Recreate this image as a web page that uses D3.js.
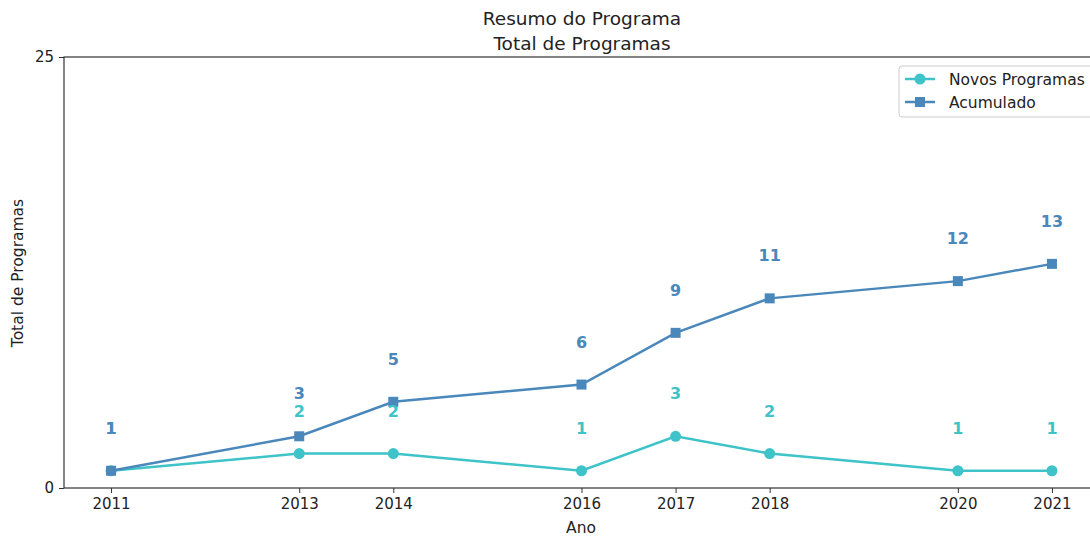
<!DOCTYPE html>
<html><head><meta charset="utf-8">
<script src="https://cdn.jsdelivr.net/npm/d3@7"></script>
<style>body{margin:0;background:#fff}svg{display:block}text{font-family:"DejaVu Sans",sans-serif}</style>
</head><body>
<svg id="c" width="1090" height="536"></svg>
<script>
const years = [2011, 2013, 2014, 2016, 2017, 2018, 2020, 2021];
const novos = [1, 2, 2, 1, 3, 2, 1, 1];
const acumulado = [1, 3, 5, 6, 9, 11, 12, 13];
const yTicks = [0, 25];
const seriesNames = ["Novos Programas", "Acumulado"];
const colNovos = "#3ec3c8", colAcum = "#4a87ba";

const svg = d3.select("#c");
const L = 64, R = 1099, T = 57, B = 488;
const x = d3.scaleLinear().domain([2010.5, 2021.5]).range([L, R]);
const y = d3.scaleLinear().domain([0, 25]).range([B, T]);

svg.append("rect").attr("x", L).attr("y", T).attr("width", R - L).attr("height", B - T)
  .attr("fill", "none").attr("stroke", "#333").attr("stroke-width", 1.2);

const xa = svg.append("g").attr("transform", `translate(0,${B})`)
  .call(d3.axisBottom(x).tickValues(years).tickFormat(d3.format("d")).tickSize(5).tickPadding(5));
const ya = svg.append("g").attr("transform", `translate(${L},0)`)
  .call(d3.axisLeft(y).tickValues(yTicks).tickSize(5).tickPadding(5));
[xa, ya].forEach(a => {
  a.select(".domain").remove();
  a.selectAll("text").attr("font-size", 15).attr("fill", "#222").attr("font-family", "DejaVu Sans");
  a.selectAll("line").attr("stroke", "#333");
});

svg.append("text").attr("x", 582).attr("y", 25).attr("text-anchor", "middle").attr("font-size", 18.5).attr("fill", "#222").text("Resumo do Programa");
svg.append("text").attr("x", 582).attr("y", 50).attr("text-anchor", "middle").attr("font-size", 18.5).attr("fill", "#222").text("Total de Programas");
svg.append("text").attr("x", 581).attr("y", 533).attr("text-anchor", "middle").attr("font-size", 15.5).attr("fill", "#222").text("Ano");
svg.append("text").attr("transform", "translate(23,273) rotate(-90)").attr("text-anchor", "middle").attr("font-size", 15.5).attr("fill", "#222").text("Total de Programas");

const line = d3.line().x(d => x(d[0])).y(d => y(d[1]));
const dN = years.map((yr, i) => [yr, novos[i]]);
const dA = years.map((yr, i) => [yr, acumulado[i]]);

svg.append("path").datum(dN).attr("d", line).attr("fill", "none").attr("stroke", colNovos).attr("stroke-width", 2.5);
svg.selectAll(".mn").data(dN).join("circle").attr("cx", d => x(d[0])).attr("cy", d => y(d[1])).attr("r", 5.5).attr("fill", colNovos);

svg.append("path").datum(dA).attr("d", line).attr("fill", "none").attr("stroke", colAcum).attr("stroke-width", 2.5);
svg.selectAll(".ma").data(dA).join("rect").attr("x", d => x(d[0]) - 5).attr("y", d => y(d[1]) - 5).attr("width", 10).attr("height", 10).attr("fill", colAcum);

svg.selectAll(".ln").data(dN).join("text").attr("x", d => x(d[0])).attr("y", d => y(d[1]) - 37)
  .attr("text-anchor", "middle").attr("font-size", 16).attr("font-weight", "bold").attr("fill", colNovos).text(d => d[1]);
svg.selectAll(".la").data(dA).join("text").attr("x", d => x(d[0])).attr("y", d => y(d[1]) - 37)
  .attr("text-anchor", "middle").attr("font-size", 16).attr("font-weight", "bold").attr("fill", colAcum).text(d => d[1]);

const lg = svg.append("g").attr("transform", "translate(899,66)");
lg.append("rect").attr("width", 210).attr("height", 51).attr("rx", 3).attr("fill", "#fff").attr("stroke", "#ccc");
[[colNovos, "circle"], [colAcum, "rect"]].forEach((c, i) => {
  const cy = 13 + i * 23;
  lg.append("line").attr("x1", 6).attr("x2", 36).attr("y1", cy).attr("y2", cy).attr("stroke", c[0]).attr("stroke-width", 2.5);
  if (c[1] === "circle") lg.append("circle").attr("cx", 21).attr("cy", cy).attr("r", 5.5).attr("fill", c[0]);
  else lg.append("rect").attr("x", 16).attr("y", cy - 5).attr("width", 10).attr("height", 10).attr("fill", c[0]);
  lg.append("text").attr("x", 50).attr("y", cy + 5.5).attr("font-size", 15.5).attr("fill", "#222").text(seriesNames[i]);
});
</script>
</body></html>
